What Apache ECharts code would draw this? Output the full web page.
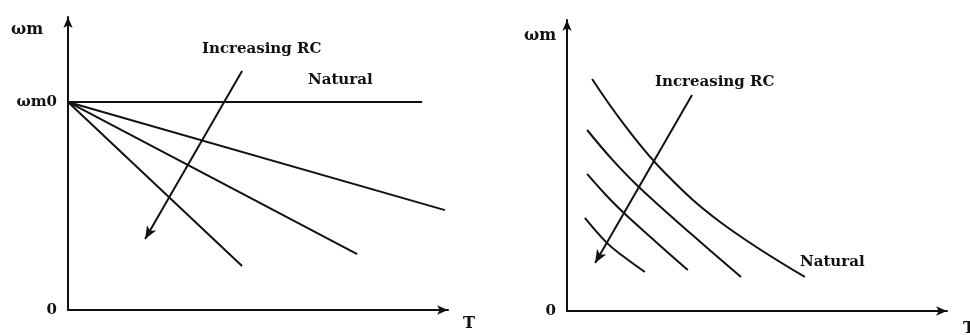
<!DOCTYPE html>
<html>
<head>
<meta charset="utf-8">
<script src="https://cdn.jsdelivr.net/npm/echarts@6/dist/echarts.min.js"></script>
<style>
  html, body { margin: 0; padding: 0; background: #ffffff; }
  #chart { width: 970px; height: 335px; }
</style>
</head>
<body>
<div id="chart"></div>
<script>
// Left panel: speed ωm against torque T, straight characteristics from ωm0
const wm0 = 71;
const leftNatural = [[0, wm0], [93.2, wm0]];
const leftLineA = [[0, wm0], [99.2, 34.1]];
const leftLineB = [[0, wm0], [76.1, 19.1]];
const leftLineC = [[0, wm0], [45.8, 15.0]];
const leftArrow = [[45.8, 81.6], [20.3, 24.2]];
const leftTicks = [0, wm0];
const leftTickLabels = ['0', 'ωm0'];

// Right panel: speed ωm against torque T, falling curves
const rightNatural = [[6.6, 79.7], [15.3, 63.6], [25.8, 47.4], [40.3, 30.6], [62.6, 11.7]];
const rightCurveA = [[5.3, 62.2], [11.8, 52.2], [18.7, 42.9], [32.4, 26.8], [45.8, 11.7]];
const rightCurveB = [[5.3, 47.1], [10.0, 40.2], [14.7, 34.0], [23.7, 23.4], [31.8, 14.1]];
const rightCurveC = [[4.7, 32.0], [10.5, 23.4], [14.7, 18.9], [20.5, 13.4]];
const rightArrow = [[32.9, 74.2], [7.4, 16.5]];
const rightTicks = [0];
const rightTickLabels = ['0'];

const INK = '#111111';
const FONT = '"DejaVu Serif", "Liberation Serif", serif';

function axisPair(gridIndex, ticks, tickLabels) {
  const line = {
    show: true,
    onZero: false,
    symbol: ['none', 'arrow'],
    symbolSize: [7, 11],
    lineStyle: { color: INK, width: 2 }
  };
  return {
    x: {
      gridIndex, type: 'value', min: 0, max: 100,
      axisLine: line, axisTick: { show: false },
      axisLabel: { show: false }, splitLine: { show: false }
    },
    y: {
      gridIndex, type: 'value', min: 0, max: 100,
      axisLine: line, axisTick: { show: false },
      splitLine: { show: false },
      axisLabel: {
        show: true,
        customValues: ticks,
        formatter: v => tickLabels[ticks.indexOf(v)],
        color: INK, fontFamily: FONT, fontWeight: 'bold', fontSize: 15, margin: 11
      }
    }
  };
}

const L = axisPair(0, leftTicks, leftTickLabels);
const R = axisPair(1, rightTicks, rightTickLabels);

function curve(data, xi, smooth) {
  return {
    type: 'line', xAxisIndex: xi, yAxisIndex: xi, data,
    showSymbol: false, smooth, silent: true,
    lineStyle: { color: INK, width: 2 }
  };
}

function arrowOn(series, pts) {
  series.markLine = {
    silent: true,
    symbol: ['none', 'arrow'],
    symbolSize: [8, 13],
    label: { show: false },
    lineStyle: { color: INK, width: 2, type: 'solid' },
    data: [[{ coord: pts[0] }, { coord: pts[1] }]]
  };
  return series;
}

function text(str, x, y, size) {
  return {
    type: 'text', x, y, silent: true,
    style: {
      text: str, fill: INK, verticalAlign: 'middle',
      font: 'bold ' + (size || 15) + 'px ' + FONT
    }
  };
}

const chart = echarts.init(document.getElementById('chart'));
chart.setOption({
  animation: false,
  backgroundColor: '#ffffff',
  grid: [
    { left: 68, top: 17, width: 380, height: 293 },
    { left: 567, top: 20, width: 380, height: 291 }
  ],
  xAxis: [L.x, R.x],
  yAxis: [L.y, R.y],
  series: [
    arrowOn(curve(leftNatural, 0, false), leftArrow),
    curve(leftLineA, 0, false),
    curve(leftLineB, 0, false),
    curve(leftLineC, 0, false),
    arrowOn(curve(rightNatural, 1, 0.4), rightArrow),
    curve(rightCurveA, 1, 0.4),
    curve(rightCurveB, 1, 0.4),
    curve(rightCurveC, 1, 0.4)
  ],
  graphic: [
    text('ωm', 11, 30, 16),
    text('Increasing RC', 202, 49),
    text('Natural', 308, 80),
    text('T', 463, 324, 16),
    text('ωm', 524, 36, 16),
    text('Increasing RC', 655, 82),
    text('Natural', 800, 262),
    text('T', 963, 329, 16)
  ]
});
</script>
</body>
</html>
